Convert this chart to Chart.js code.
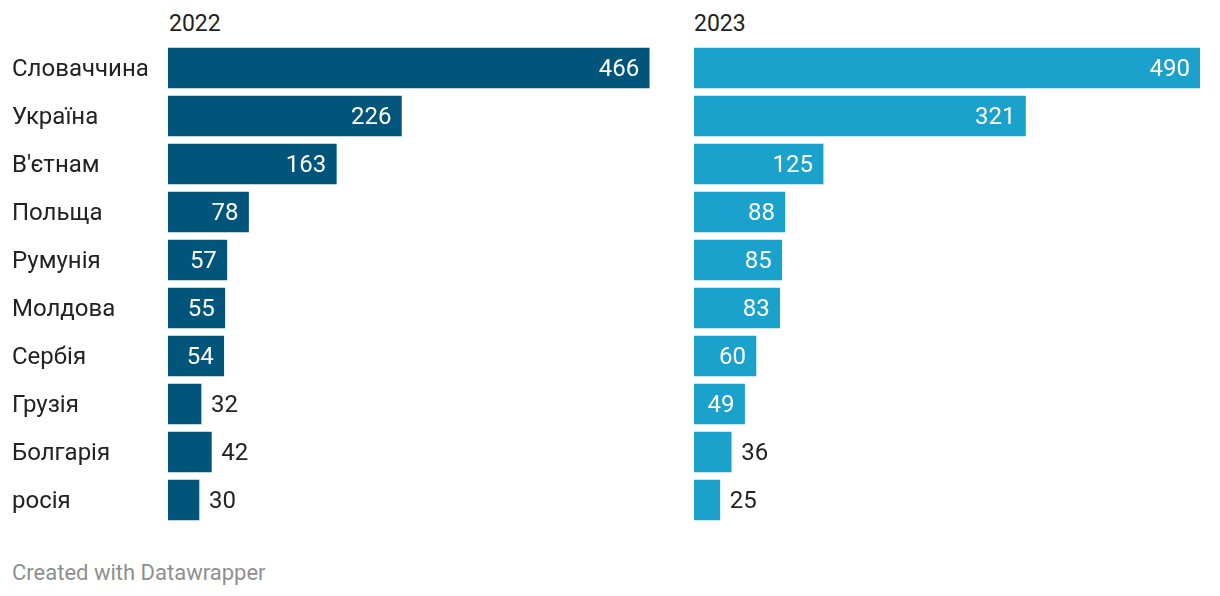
<!DOCTYPE html>
<html>
<head>
<meta charset="utf-8">
<script src="https://cdn.jsdelivr.net/npm/chart.js@4.4.0/dist/chart.umd.min.js"></script>
<style>
  body { margin: 0; background: #fff; font-family: Roboto, sans-serif; }
  #wrap { position: relative; width: 1220px; height: 596px; }
  .title { position: absolute; top: 10px; font-size: 23px; color: #222; }
  .box { position: absolute; top: 0; height: 540px; }
  #footer { position: absolute; left: 12px; top: 560px; font-size: 22px; color: #8f8f8f; }
</style>
</head>
<body>
<div id="wrap">
  <div class="title" style="left:169px">2022</div>
  <div class="title" style="left:694px">2023</div>
  <div class="box" style="left:0; width:680px"><canvas id="c1"></canvas></div>
  <div class="box" style="left:694px; width:520px"><canvas id="c2"></canvas></div>
  <div id="footer">Created with Datawrapper</div>
</div>
<script>
const countries = ['Словаччина', 'Україна', "В'єтнам", 'Польща', 'Румунія', 'Молдова', 'Сербія', 'Грузія', 'Болгарія', 'росія'];
const values2022 = [466, 226, 163, 78, 57, 55, 54, 32, 42, 30];
const values2023 = [490, 321, 125, 88, 85, 83, 60, 49, 36, 25];
const scaleMax = 490;

const valueLabels = {
  id: 'valueLabels',
  afterDatasetsDraw(chart) {
    const ctx = chart.ctx;
    const meta = chart.getDatasetMeta(0);
    ctx.save();
    ctx.font = '24px Roboto';
    ctx.textBaseline = 'middle';
    meta.data.forEach((bar, i) => {
      const v = chart.data.datasets[0].data[i];
      const txt = String(v);
      const w = ctx.measureText(txt).width;
      const barW = bar.x - bar.base;
      if (barW > w + 22) {
        ctx.fillStyle = '#ffffff';
        ctx.textAlign = 'right';
        ctx.fillText(txt, bar.x - 10, bar.y + 2);
      } else {
        ctx.fillStyle = '#222222';
        ctx.textAlign = 'left';
        ctx.fillText(txt, bar.x + 10, bar.y + 2);
      }
    });
    ctx.restore();
  }
};

function makeChart(id, data, color, showLabels) {
  return new Chart(document.getElementById(id), {
    type: 'bar',
    data: {
      labels: countries,
      datasets: [{ data: data, backgroundColor: color, barThickness: 40 }]
    },
    options: {
      indexAxis: 'y',
      responsive: false,
      animation: false,
      layout: { padding: { left: showLabels ? 12 : 0, top: 44, bottom: 16, right: 0 } },
      plugins: { legend: { display: false }, tooltip: { enabled: false } },
      scales: {
        x: { min: 0, max: scaleMax, display: false },
        y: {
          display: showLabels,
          grid: { display: false },
          border: { display: false },
          ticks: { crossAlign: 'far', padding: 0, labelOffset: 2, color: '#222', font: { family: 'Roboto', size: 24 } },
          afterFit(scale) { if (showLabels) scale.width = 156; }
        }
      }
    },
    plugins: [valueLabels]
  });
}

const c1 = document.getElementById('c1');
c1.width = 674; c1.height = 540;
const c2 = document.getElementById('c2');
c2.width = 506; c2.height = 540;

makeChart('c1', values2022, '#01547a', true);
makeChart('c2', values2023, '#1aa1cc', false);
</script>
</body>
</html>
